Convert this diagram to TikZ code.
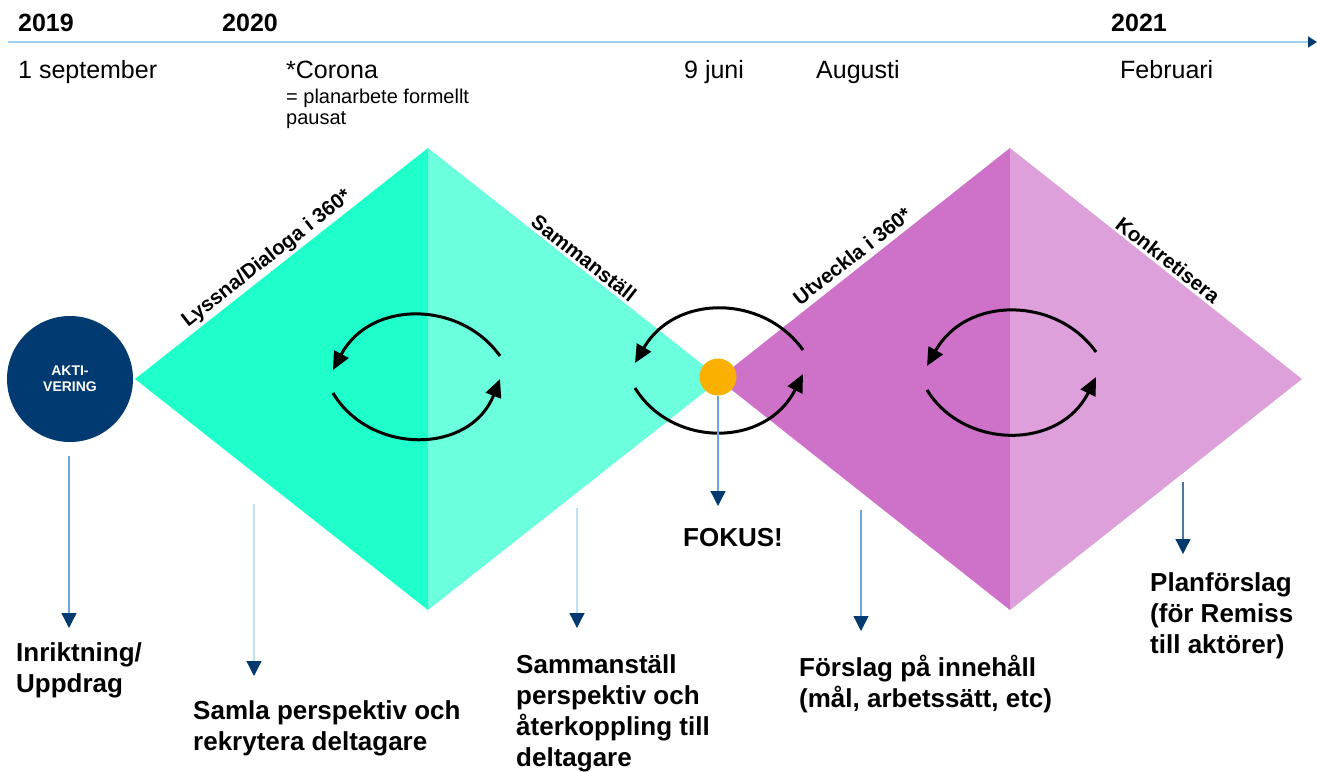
\documentclass[tikz,border=0pt]{standalone}
\usepackage{fontspec}
\setmainfont{Liberation Sans}
\usetikzlibrary{arrows.meta}
\definecolor{greenA}{RGB}{30,255,203}
\definecolor{greenB}{RGB}{108,255,222}
\definecolor{purpleA}{RGB}{205,114,200}
\definecolor{purpleB}{RGB}{222,160,219}
\definecolor{orangeF}{RGB}{249,176,0}
\definecolor{navy}{RGB}{0,58,112}
\definecolor{tlblue}{RGB}{160,208,245}
\definecolor{midblue}{RGB}{110,165,220}
\definecolor{paleblue}{RGB}{190,225,250}
\begin{document}
\begin{tikzpicture}[x=1pt,y=-1pt,
  yeartxt/.style={font=\fontsize{25}{30}\selectfont\bfseries, anchor=base west, inner sep=0pt},
  datetxt/.style={font=\fontsize{25}{30}\selectfont, anchor=base west, inner sep=0pt},
  notetxt/.style={font=\fontsize{20}{21}\selectfont, anchor=base west, inner sep=0pt, align=left},
  outtxt/.style={font=\fontsize{26}{31}\selectfont\bfseries, anchor=base west, inner sep=0pt, align=left},
  diagtxt/.style={font=\fontsize{20.5}{22}\selectfont\bfseries, inner sep=0pt},
  cyc/.style={line width=3pt, black, -{Triangle[length=18pt,width=16pt]}},
  downarrow/.style={line width=1.3pt, draw=midblue, -{Triangle[length=15pt,width=15pt,color=navy]}},
  downpale/.style={downarrow, draw=paleblue},
]
\useasboundingbox (0,0) rectangle (1317,771);

% timeline
\coordinate (tl0) at (8,42);
\coordinate (tl1) at (1317,42);
\draw[line width=1.3pt, draw=tlblue, -{Triangle[length=9pt,width=11pt,color=navy]}] (tl0) -- (tl1);

\node[yeartxt] (y2019) at (18,31) {2019};
\node[yeartxt] (y2020) at (222,31) {2020};
\node[yeartxt] (y2021) at (1111,31) {2021};

\node[datetxt] (d1) at (18,78) {1 september};
\node[datetxt] (d2) at (286,78) {*Corona};
\node[notetxt] (d2n) at (286,124) {= planarbete formellt\\pausat};
\node[datetxt] (d3) at (684,78) {9 juni};
\node[datetxt] (d4) at (816,78) {Augusti};
\node[datetxt] (d5) at (1120,78) {Februari};

% green diamond
\coordinate (gL) at (135,379);
\coordinate (gT) at (428,148);
\coordinate (gB) at (428,610);
\coordinate (gR) at (721,379);
\fill[greenA] (gL) -- (gT) -- (gB) -- cycle;
\fill[greenB] (gT) -- (gR) -- (gB) -- cycle;

% purple diamond
\coordinate (pL) at (718,379);
\coordinate (pT) at (1010,148);
\coordinate (pB) at (1010,610);
\coordinate (pR) at (1302,379);
\fill[purpleA] (pL) -- (pT) -- (pB) -- cycle;
\fill[purpleB] (pT) -- (pR) -- (pB) -- cycle;

% diagonal labels
\node[diagtxt, rotate=38.1] (l1) at (267,259) {Lyssna/Dialoga i 360*};
\node[diagtxt, rotate=-38.1] (l2) at (584,258) {Sammanställ};
\node[diagtxt, rotate=38.1] (l3) at (852,256) {Utveckla i 360*};
\node[diagtxt, rotate=-38.1] (l4) at (1168,260) {Konkretisera};

% cycle arrows green
\coordinate (g1s) at (500,356); \coordinate (g1e) at (333,370);
\coordinate (g2s) at (333,393); \coordinate (g2e) at (500,379);
\draw[cyc] (g1s) .. controls (460,300) and (370,300) .. (g1e);
\draw[cyc] (g2s) .. controls (370,455) and (470,455) .. (g2e);

% cycle arrows middle
\coordinate (m1s) at (803,350); \coordinate (m1e) at (635,363);
\coordinate (m2s) at (635,388); \coordinate (m2e) at (803,374);
\draw[cyc] (m1s) .. controls (763,294) and (675,294) .. (m1e);
\draw[cyc] (m2s) .. controls (672,448) and (766,448) .. (m2e);

% cycle arrows purple
\coordinate (p1s) at (1096,352); \coordinate (p1e) at (927,366);
\coordinate (p2s) at (927,390); \coordinate (p2e) at (1096,377);
\draw[cyc] (p1s) .. controls (1056,296) and (966,296) .. (p1e);
\draw[cyc] (p2s) .. controls (964,450) and (1060,450) .. (p2e);

% activation circle
\node[circle, fill=navy, minimum size=126pt, inner sep=0pt, text=white,
      font=\fontsize{14}{16}\selectfont\bfseries, align=center] (akt) at (70,379) {AKTI-\\VERING};

% focus point
\node[circle, fill=orangeF, minimum size=37pt, inner sep=0pt] (fok) at (718,377) {};

% outputs (base anchor = baseline of last line)
\node[outtxt] (o1) at (16,692) {Inriktning/\\Uppdrag};
\node[outtxt] (o2) at (193,750) {Samla perspektiv och\\rekrytera deltagare};
\node[outtxt] (o3) at (516,766) {Sammanställ\\perspektiv och\\återkoppling till\\deltagare};
\node[outtxt] (o4) at (683,546) {FOKUS!};
\node[outtxt] (o5) at (799,707) {Förslag på innehåll\\(mål, arbetssätt, etc)};
\node[outtxt] (o6) at (1150,653) {Planförslag\\(för Remiss\\till aktörer)};

% down arrows
\coordinate (a1s) at (69,456);  \coordinate (a1e) at (69,628);
\coordinate (a2s) at (254,504); \coordinate (a2e) at (254,676);
\coordinate (a3s) at (577,508); \coordinate (a3e) at (577,628);
\coordinate (a4e) at (718,506);
\coordinate (a5s) at (861,510); \coordinate (a5e) at (861,631);
\coordinate (a6s) at (1183,482); \coordinate (a6e) at (1183,554);
\draw[downarrow] (a1s) -- (a1e);
\draw[downpale] (a2s) -- (a2e);
\draw[downpale] (a3s) -- (a3e);
\draw[downarrow] (fok.south) -- (a4e);
\draw[downarrow] (a5s) -- (a5e);
\draw[downarrow, draw=navy!70] (a6s) -- (a6e);
\end{tikzpicture}
\end{document}
